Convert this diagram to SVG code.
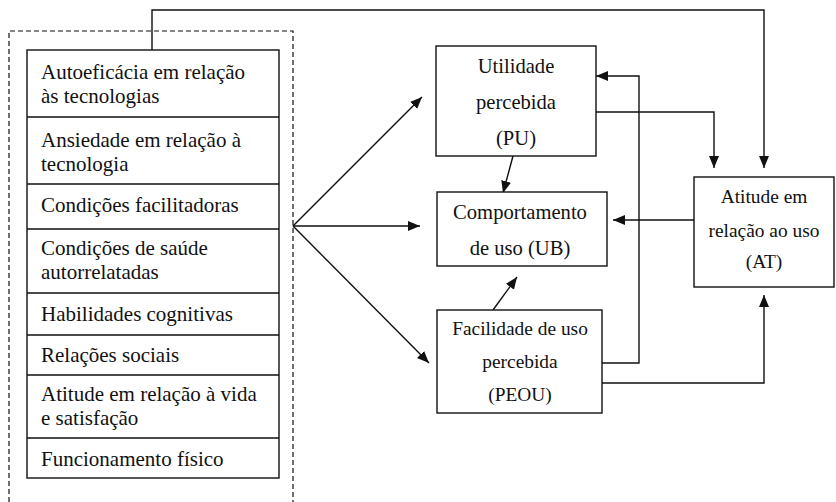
<svg xmlns="http://www.w3.org/2000/svg" width="836" height="502" viewBox="0 0 836 502">
<defs>
<marker id="ah" viewBox="0 0 12 10" refX="12" refY="5" markerWidth="12" markerHeight="10" markerUnits="userSpaceOnUse" orient="auto">
<path d="M0,0 L12,5 L0,10 Z" fill="#111"/>
</marker>
<style>
text{font-family:'Liberation Serif','Times New Roman','DejaVu Serif',serif;font-size:21px;fill:#111}
.c{text-anchor:middle}
.m{font-size:20.6px}
.s{font-size:19.4px}
.box{fill:#fff;stroke:#111;stroke-width:1.4}
.ln{fill:none;stroke:#111;stroke-width:1.4}
.ar{fill:none;stroke:#111;stroke-width:1.4;marker-end:url(#ah)}
.dash{fill:none;stroke:#111;stroke-width:1.2;stroke-dasharray:5,3}
</style>
</defs>
<rect width="836" height="502" fill="#fff"/>
<g id="connectors">
<path class="dash" d="M9,502 V31 H293 V502"/>
<path class="ar" d="M152,50 V10 H764 V168"/>
<path class="ar" d="M293,226 L422,97"/>
<path class="ar" d="M293,226 L420,226"/>
<path class="ar" d="M293,226 L429,363"/>
<path class="ar" d="M513,156 L503,193"/>
<path class="ar" d="M493,310 L517,277"/>
<path class="ar" d="M694,220 L613,220"/>
<path class="ar" d="M596,112 H714 V168"/>
<path class="ar" d="M600,363 H639 V76 H596"/>
<path class="ar" d="M602,383 H764 V295"/>
</g>
<g id="factors">
<rect class="box" x="27" y="50" width="252" height="428"/>
<path class="ln" d="M27,117 H279 M27,184 H279 M27,229 H279 M27,293 H279 M27,335 H279 M27,375 H279 M27,438 H279"/>
<text x="41" y="79">Autoeficácia em relação</text>
<text x="41" y="103">às tecnologias</text>
<text x="41" y="147">Ansiedade em relação à</text>
<text x="41" y="171">tecnologia</text>
<text x="41" y="212">Condições facilitadoras</text>
<text x="41" y="255">Condições de saúde</text>
<text x="41" y="279">autorrelatadas</text>
<text x="41" y="321">Habilidades cognitivas</text>
<text x="41" y="362">Relações sociais</text>
<text x="41" y="401">Atitude em relação à vida</text>
<text x="41" y="425">e satisfação</text>
<text x="41" y="466">Funcionamento físico</text>
</g>
<g id="pu">
<rect class="box" x="436" y="46" width="160" height="110"/>
<text class="c m" x="516" y="73">Utilidade</text>
<text class="c m" x="516" y="109">percebida</text>
<text class="c m" x="516" y="145">(PU)</text>
</g>
<g id="ub">
<rect class="box" x="437" y="192" width="170" height="74"/>
<text class="c m" x="520" y="219">Comportamento</text>
<text class="c m" x="520" y="255">de uso (UB)</text>
</g>
<g id="peou">
<rect class="box" x="437" y="310" width="165" height="103"/>
<text class="c s" x="520" y="335">Facilidade de uso</text>
<text class="c s" x="520" y="368">percebida</text>
<text class="c s" x="520" y="401">(PEOU)</text>
</g>
<g id="at">
<rect class="box" x="694" y="177" width="140" height="110"/>
<text class="c s" x="764" y="203">Atitude em</text>
<text class="c s" x="764" y="237">relação ao uso</text>
<text class="c s" x="764" y="268">(AT)</text>
</g>
</svg>
